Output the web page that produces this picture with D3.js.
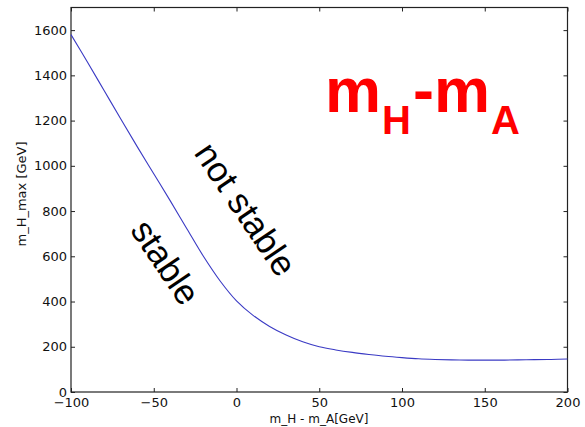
<!DOCTYPE html>
<html>
<head>
<meta charset="utf-8">
<script src="https://cdn.jsdelivr.net/npm/d3@7"></script>
<style>
  body { margin: 0; background: #fff; }
  svg { display: block; }
</style>
</head>
<body>
<div id="chart-area"></div>
<script>
// mass difference m_H - m_A [GeV]
var massDiff = [-100, -90, -80, -70, -60, -50, -40, -30, -20, -10, 0, 10, 20, 30, 40, 50,
    60, 70, 80, 90, 100, 110, 120, 130, 140, 150, 160, 170, 180, 190, 200];
// m_H_max [GeV]
var mHmax = [1580, 1458, 1333, 1208, 1085, 965, 845, 722, 600, 492, 403, 339, 290, 252, 222, 200,
    186, 175, 166, 158, 152, 147, 144, 142, 141, 141, 141, 142, 143, 144, 146];

var xTicks = [-100, -50, 0, 50, 100, 150, 200];
var yTicks = [0, 200, 400, 600, 800, 1000, 1200, 1400, 1600];

var data = massDiff.map((d, i) => ({ x: d, y: mHmax[i] }));

var svg = d3.select("#chart-area").append("svg")
    .attr("width", 585)
    .attr("height", 427);

var x = d3.scaleLinear()
    .domain([-100, 200])
    .range([71, 567.5]);

var y = d3.scaleLinear()
    .domain([0, 1700])
    .range([392, 7.5]);

// frame
svg.append("rect")
    .attr("x", x.range()[0])
    .attr("y", y.range()[1])
    .attr("width", x.range()[1] - x.range()[0])
    .attr("height", y.range()[0] - y.range()[1])
    .attr("fill", "none")
    .attr("stroke", "#222")
    .attr("stroke-width", 1.2);

var tickFont = "'DejaVu Sans', sans-serif";

// bottom / left axes with inward ticks
var xAxis = d3.axisBottom(x).tickValues(xTicks).tickSize(-4).tickPadding(6)
    .tickFormat(d => d < 0 ? "\u2212" + Math.abs(d) : d);
var yAxis = d3.axisLeft(y).tickValues(yTicks).tickSize(-4).tickPadding(4)
    .tickFormat(d => d);

svg.append("g")
    .attr("transform", "translate(0,392)")
    .call(xAxis);
svg.append("g")
    .attr("transform", "translate(71,0)")
    .call(yAxis);

// top / right ticks only
svg.append("g")
    .attr("transform", "translate(0," + y.range()[1] + ")")
    .call(d3.axisTop(x).tickValues(xTicks).tickSize(-4).tickFormat(""));
svg.append("g")
    .attr("transform", "translate(" + x.range()[1] + ",0)")
    .call(d3.axisRight(y).tickValues(yTicks).tickSize(-4).tickFormat(""));

svg.selectAll(".domain").remove();
svg.selectAll(".tick line").attr("stroke", "#222");
svg.selectAll(".tick text")
    .attr("fill", "#111")
    .style("font-family", tickFont)
    .style("font-size", "13px");

// curve
var line = d3.line()
    .x(d => x(d.x))
    .y(d => y(d.y))
    .curve(d3.curveCatmullRom);

svg.append("path")
    .datum(data)
    .attr("d", line)
    .attr("fill", "none")
    .attr("stroke", "#3a3ac4")
    .attr("stroke-width", 1.1);

// axis labels
svg.append("text")
    .attr("x", 319)
    .attr("y", 423)
    .attr("text-anchor", "middle")
    .style("font-family", tickFont)
    .style("font-size", "12px")
    .attr("fill", "#111")
    .text("m_H - m_A[GeV]");

svg.append("text")
    .attr("transform", "translate(26,194) rotate(-90)")
    .attr("text-anchor", "middle")
    .style("font-family", tickFont)
    .style("font-size", "13px")
    .attr("fill", "#111")
    .text("m_H_max [GeV]");

// region annotations
var annFont = "'Liberation Sans', Arial, sans-serif";
svg.append("text")
    .attr("transform", "translate(246,209) rotate(56)")
    .attr("text-anchor", "middle")
    .attr("dominant-baseline", "central")
    .style("font-family", annFont)
    .style("font-size", "35px")
    .attr("fill", "#000")
    .text("not stable");

svg.append("text")
    .attr("transform", "translate(166,262) rotate(56)")
    .attr("text-anchor", "middle")
    .attr("dominant-baseline", "central")
    .style("font-family", annFont)
    .style("font-size", "35px")
    .attr("fill", "#000")
    .text("stable");

// big red label m_H - m_A
var big = svg.append("text")
    .attr("x", 325)
    .attr("y", 112)
    .style("font-family", annFont)
    .style("font-weight", "bold")
    .attr("fill", "#ff0000");
big.append("tspan").style("font-size", "63px").text("m");
big.append("tspan").style("font-size", "40px").attr("dx", 1).attr("dy", 22).text("H");
big.append("tspan").style("font-size", "63px").attr("dx", 2).attr("dy", -22).text("-m");
big.append("tspan").style("font-size", "40px").attr("dx", 1).attr("dy", 22).text("A");
</script>
</body>
</html>
